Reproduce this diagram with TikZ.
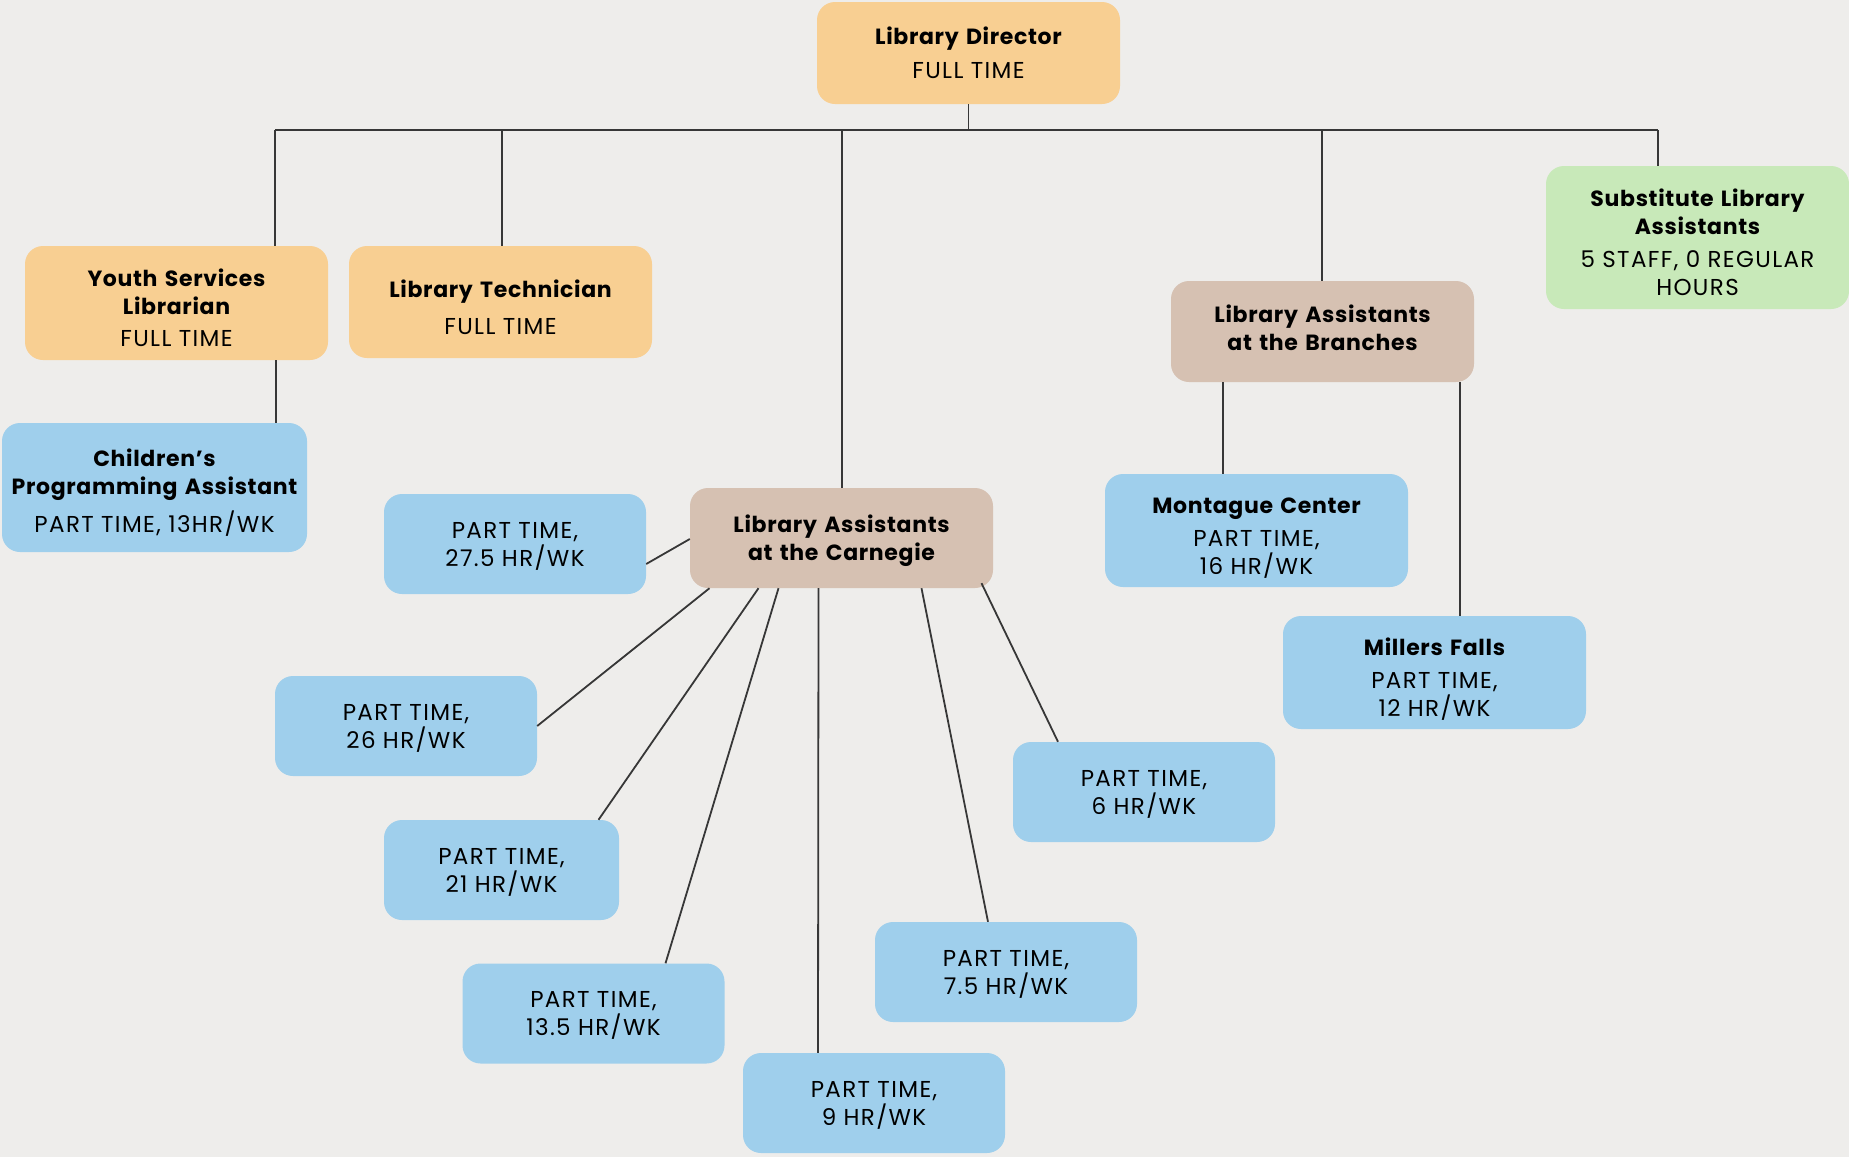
\documentclass[tikz,border=0pt]{standalone}
\usepackage{fontspec}
\setmainfont{Poppins}
\newfontfamily\titfont{Poppins}[LetterSpace=3]
\newfontfamily\subfont{Poppins}[LetterSpace=6]
\definecolor{bgc}{RGB}{238,237,235}
\definecolor{orangec}{RGB}{248,207,146}
\definecolor{tanc}{RGB}{214,193,178}
\definecolor{bluec}{RGB}{159,207,236}
\definecolor{greenc}{RGB}{200,233,185}
\definecolor{linec}{RGB}{55,55,55}
\newcommand{\ttl}[1]{{\titfont\bfseries\fontsize{22}{28}\selectfont #1}}
\newcommand{\sbt}[1]{{\subfont\fontsize{23}{28}\selectfont #1}}
\tikzset{
  box/.style={rounded corners=18pt, minimum width=303pt, minimum height=100pt,
    align=center, inner sep=2pt, text width=299pt,
    font=\fontsize{22}{28}\selectfont},
  obox/.style={box, fill=orangec},
  tbox/.style={box, fill=tanc},
  gbox/.style={box, fill=greenc},
  bbox/.style={box, fill=bluec},
  link/.style={draw=linec, line width=1.8pt},
}
\begin{document}
\begin{tikzpicture}[x=1pt,y=-1pt]
\fill[bgc] (0,0) rectangle (1849,1157);
\useasboundingbox (0,0) rectangle (1849,1157);

\node[obox, minimum height=102pt] (dir) at (968.5,53) {\ttl{Library Director}\\[6pt]\sbt{FULL TIME}};
\node[obox, minimum height=114pt, text height=27pt] (youth) at (176.5,303) {\ttl{Youth Services\\Librarian}\\[4pt]\sbt{FULL TIME}};
\node[obox, minimum height=112pt, text height=29pt] (tech) at (500.5,302) {\ttl{Library Technician}\\[9pt]\sbt{FULL TIME}};
\node[gbox, minimum height=143pt, text height=27pt] (sub) at (1697.5,237.5) {\ttl{Substitute Library\\Assistants}\\[5pt]\sbt{5 STAFF, 0 REGULAR\\HOURS}};
\node[tbox, minimum height=101pt, text height=11pt] (bran) at (1322.5,331.5) {\ttl{Library Assistants\\at the Branches}};
\node[bbox, minimum width=305pt, minimum height=129pt, text height=28pt] (child) at (154.5,487.5) {\ttl{Children’s\\Programming Assistant}\\[10pt]\sbt{PART TIME, 13HR/WK}};
\node[tbox, minimum height=100pt, text height=23pt] (carn) at (841.5,538) {\ttl{Library Assistants\\at the Carnegie}};
\node[bbox, minimum height=113pt, text height=31pt] (mont) at (1256.5,530.5) {\ttl{Montague Center}\\[5pt]\sbt{PART TIME,\\16 HR/WK}};
\node[bbox, minimum height=113pt, text height=31pt] (mill) at (1434.5,672.5) {\ttl{Millers Falls}\\[5pt]\sbt{PART TIME,\\12 HR/WK}};

\node[bbox, minimum width=262pt, text width=250pt, text height=20pt] (p275) at (515,544) {\sbt{PART TIME,\\27.5 HR/WK}};
\node[bbox, minimum width=262pt, text width=250pt, text height=20pt] (p26) at (406,726) {\sbt{PART TIME,\\26 HR/WK}};
\node[bbox, minimum width=235pt, text width=225pt, text height=20pt] (p21) at (501.5,870) {\sbt{PART TIME,\\21 HR/WK}};
\node[bbox, minimum width=262pt, text width=250pt, text height=20pt] (p6) at (1144,792) {\sbt{PART TIME,\\6 HR/WK}};
\node[bbox, minimum width=262pt, text width=250pt, text height=20pt] (p75) at (1006,972) {\sbt{PART TIME,\\7.5 HR/WK}};
\node[bbox, minimum width=262pt, text width=250pt, text height=20pt] (p135) at (593.5,1013.5) {\sbt{PART TIME,\\13.5 HR/WK}};
\node[bbox, minimum width=262pt, text width=250pt, text height=20pt] (p9) at (874,1103) {\sbt{PART TIME,\\9 HR/WK}};

% bus
\coordinate (busL) at (275,130);
\coordinate (busR) at (1658,130);
\draw[link] (dir.south) -- (dir.south |- busL);
\draw[link] (busL) -- (busR);
\draw[link] (busL) -- (busL |- youth.north);
\draw[link] (tech.north -| 502,0) -- (502,130);
\draw[link] (842,130) -- (carn.north -| 842,0);
\draw[link] (1322,130) -- (bran.north -| 1322,0);
\draw[link] (busR) -- (busR |- sub.north);
\draw[link] (youth.south -| 276,0) -- (child.north -| 276,0);
\draw[link] (bran.south -| 1223,0) -- (mont.north -| 1223,0);
\draw[link] (bran.south -| 1460,0) -- (mill.north -| 1460,0);

% carnegie fan
\draw[link] (carn.west |- 0,539) -- (p275.east |- 0,564);
\draw[link] ([xshift=-132pt]carn.south) -- (p26.east);
\draw[link] ([xshift=-83pt]carn.south) -- ([xshift=97pt]p21.north);
\draw[link] ([xshift=-63pt]carn.south) -- ([xshift=72pt]p135.north);
\draw[link] ([xshift=-23pt]carn.south) -- ([xshift=-56pt]p9.north);
\draw[link] ([xshift=80pt]carn.south) -- ([xshift=-18pt]p75.north);
\draw[link] ([xshift=140pt,yshift=5pt]carn.south) -- ([xshift=-86pt]p6.north);
\end{tikzpicture}
\end{document}
